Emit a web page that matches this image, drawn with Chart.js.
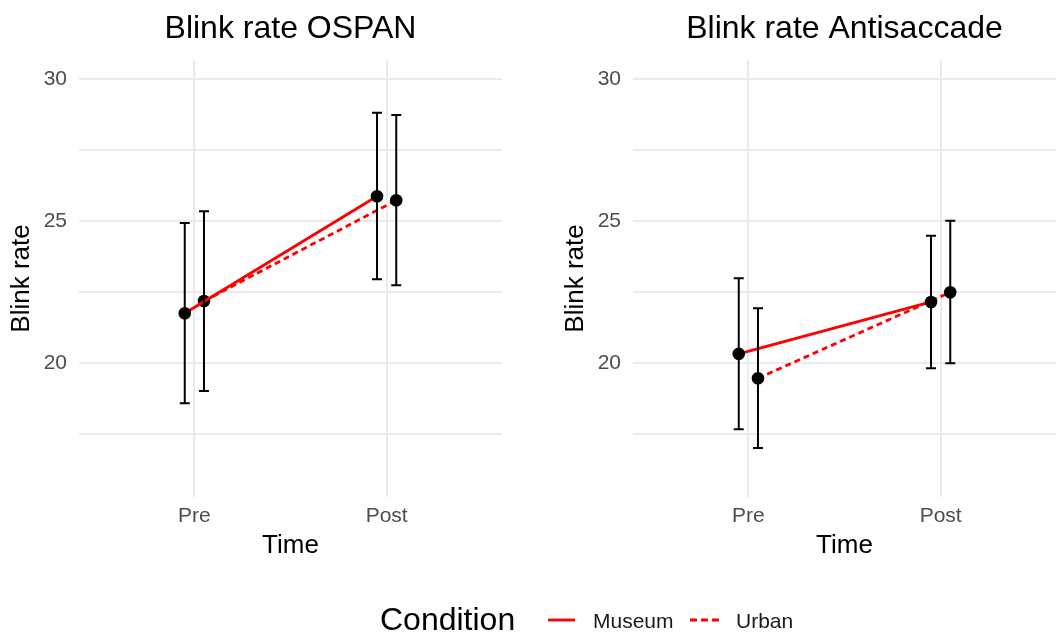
<!DOCTYPE html>
<html><head><meta charset="utf-8">
<script src="https://cdn.jsdelivr.net/npm/chart.js@4.4.1/dist/chart.umd.min.js"></script>
<style>
html,body{margin:0;padding:0;background:#fff;}
body{width:1058px;height:632px;position:relative;overflow:hidden;font-family:"Liberation Sans",Arial,sans-serif;}
#c1{position:absolute;left:0;top:0;}
#c2{position:absolute;left:554px;top:0;}
#legend{position:absolute;left:0;top:0;pointer-events:none;}
</style></head><body>
<canvas id="c1" width="529" height="580"></canvas>
<canvas id="c2" width="504" height="580"></canvas>
<svg id="legend" width="1058" height="632" xmlns="http://www.w3.org/2000/svg">
  <text x="380" y="630" font-family="Liberation Sans, Arial, sans-serif" font-size="32" fill="#000">Condition</text>
  <line x1="548" y1="620" x2="575" y2="620" stroke="#ff0000" stroke-width="2.8"/>
  <text x="593" y="628" font-family="Liberation Sans, Arial, sans-serif" font-size="21" fill="#1a1a1a">Museum</text>
  <line x1="690" y1="620" x2="719" y2="620" stroke="#ff0000" stroke-width="2.8" stroke-dasharray="7 4"/>
  <text x="736" y="628" font-family="Liberation Sans, Arial, sans-serif" font-size="21" fill="#1a1a1a">Urban</text>
</svg>
<script>
// ---- data ----
const timeLabels = ['Pre', 'Post'];
const timePositions = [1, 2];
const yTickValues = [17.5, 20, 22.5, 25, 27.5, 30];
const yTickLabelled = [20, 25, 30];

const ospanMuseumMean = [21.75, 25.87];
const ospanMuseumLow  = [18.58, 22.95];
const ospanMuseumHigh = [24.93, 28.81];
const ospanUrbanMean  = [22.18, 25.73];
const ospanUrbanLow   = [19.01, 22.74];
const ospanUrbanHigh  = [25.34, 28.73];

const antiMuseumMean = [20.32, 22.15];
const antiMuseumLow  = [17.67, 19.81];
const antiMuseumHigh = [22.98, 24.48];
const antiUrbanMean  = [19.46, 22.49];
const antiUrbanLow   = [17.01, 19.99];
const antiUrbanHigh  = [21.93, 25.01];

// ---- layout / style ----
const dodge = 0.05;
const FONT = '"Liberation Sans", Arial, sans-serif';
const GRID = '#ebebeb';

const errorBarPlugin = {
  id: 'errorBars',
  afterDatasetsDraw(chart) {
    const {ctx, scales: {x, y}} = chart;
    ctx.save();
    ctx.strokeStyle = '#000';
    ctx.lineWidth = 2;
    chart.data.datasets.forEach(ds => {
      ds.data.forEach((p, i) => {
        const px = x.getPixelForValue(p.x);
        const lo = y.getPixelForValue(ds.errLow[i]);
        const hi = y.getPixelForValue(ds.errHigh[i]);
        ctx.beginPath();
        ctx.moveTo(px, lo); ctx.lineTo(px, hi);
        ctx.moveTo(px - 5, lo); ctx.lineTo(px + 5, lo);
        ctx.moveTo(px - 5, hi); ctx.lineTo(px + 5, hi);
        ctx.stroke();
      });
    });
    ctx.restore();
  }
};

function makePanel(id, title, mMean, mLow, mHigh, uMean, uLow, uHigh, rightPad) {
  const pts = (arr, off) => timePositions.map((t, i) => ({x: t + off, y: arr[i]}));
  new Chart(document.getElementById(id), {
    type: 'line',
    data: {
      datasets: [
        {label: 'Museum', data: pts(mMean, -dodge), errLow: mLow, errHigh: mHigh,
         borderColor: '#ff0000', borderWidth: 2.8, pointRadius: 6.3, pointHoverRadius: 6.3,
         pointBackgroundColor: '#000', pointBorderWidth: 0, tension: 0},
        {label: 'Urban', data: pts(uMean, dodge), errLow: uLow, errHigh: uHigh,
         borderColor: '#ff0000', borderWidth: 2.8, borderDash: [6, 4], pointRadius: 6.3, pointHoverRadius: 6.3,
         pointBackgroundColor: '#000', pointBorderWidth: 0, tension: 0}
      ]
    },
    options: {
      responsive: false,
      animation: false,
      layout: {autoPadding: false, padding: {left: 0, right: rightPad, top: 0, bottom: 0}},
      plugins: {
        legend: {display: false},
        tooltip: {enabled: false},
        title: {display: true, text: title, fullSize: false, align: 'center', color: '#000',
                font: {family: FONT, size: 32, weight: 'normal', lineHeight: 1.2},
                padding: {top: 10.3, bottom: 11.3}}
      },
      scales: {
        x: {
          type: 'linear', min: 0.4, max: 2.6,
          afterBuildTicks: s => { s.ticks = timePositions.map(v => ({value: v})); },
          afterFit: s => { s.height = 83; },
          ticks: {callback: v => timeLabels[timePositions.indexOf(v)], color: '#4d4d4d',
                  font: {family: FONT, size: 21}, padding: 7, maxRotation: 0, autoSkip: false},
          grid: {color: GRID, lineWidth: 2, drawTicks: false},
          border: {display: false},
          title: {display: true, text: 'Time', color: '#000', font: {family: FONT, size: 26, lineHeight: 1.2},
                  padding: {top: 0, bottom: 18.4}}
        },
        y: {
          type: 'linear', min: 15.28, max: 30.67,
          afterBuildTicks: s => { s.ticks = yTickValues.map(v => ({value: v})); },
          afterFit: s => { s.width = 79; },
          ticks: {callback: v => yTickLabelled.includes(v) ? String(v) : '', color: '#4d4d4d',
                  font: {family: FONT, size: 21}, padding: 12},
          grid: {color: GRID, lineWidth: 2, drawTicks: false},
          border: {display: false},
          title: {display: true, text: 'Blink rate', color: '#000', font: {family: FONT, size: 26, lineHeight: 1.2},
                  padding: {top: 6.5, bottom: 0}}
        }
      }
    },
    plugins: [errorBarPlugin]
  });
}

makePanel('c1', 'Blink rate OSPAN', ospanMuseumMean, ospanMuseumLow, ospanMuseumHigh,
          ospanUrbanMean, ospanUrbanLow, ospanUrbanHigh, 27);
makePanel('c2', 'Blink rate Antisaccade', antiMuseumMean, antiMuseumLow, antiMuseumHigh,
          antiUrbanMean, antiUrbanLow, antiUrbanHigh, 2);
</script>
</body></html>
